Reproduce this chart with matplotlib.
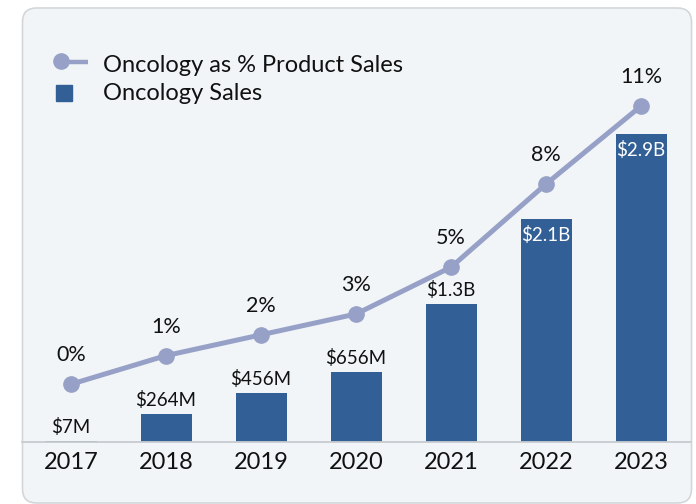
import matplotlib
matplotlib.use("Agg")
import matplotlib.pyplot as plt
from matplotlib.patches import FancyBboxPatch, Rectangle
from matplotlib.lines import Line2D
from matplotlib.transforms import IdentityTransform

plt.rcParams["font.family"] = ["Lato", "DejaVu Sans"]

years = ["2017", "2018", "2019", "2020", "2021", "2022", "2023"]
sales_m = [7, 264, 456, 656, 1300, 2100, 2900]
sales_labels = ["$7M", "$264M", "$456M", "$656M", "$1.3B", "$2.1B", "$2.9B"]
pct = [0.3, 1.4, 2.2, 3.0, 4.8, 8.0, 11.0]
pct_labels = ["0%", "1%", "2%", "3%", "5%", "8%", "11%"]

BAR = "#315f96"
LINE = "#97a1c7"
PANEL = "#f1f5f7"
H = 504


def px(y):
    # top-based pixel row -> display y
    return H - y


fig = plt.figure(figsize=(6.96, 5.04), dpi=100)
fig.patch.set_facecolor("white")

# rounded panel behind the chart (pixel coords)
panel = FancyBboxPatch((22.5, 1), 669, 495, boxstyle="round,pad=0,rounding_size=14",
                       transform=IdentityTransform(), facecolor=PANEL,
                       edgecolor="#d3d7da", linewidth=1.2, zorder=-10)
fig.patches.append(panel)

ax = fig.add_axes([22 / 696, 62 / 504, 669 / 696, 434 / 504])
ax.patch.set_alpha(0)
x = list(range(len(years)))
bars = ax.bar(x, sales_m, width=0.537, color=BAR, zorder=2)
ax.set_xlim(-0.516, 6.526)
ax.set_ylim(0, 4080)
ax.set_yticks([])
ax.set_xticks(x)
ax.set_xticklabels(years, fontsize=17, color="#111111")
ax.tick_params(axis="x", length=0, pad=7)
for s in ["top", "right", "left"]:
    ax.spines[s].set_visible(False)
ax.spines["bottom"].set_color("#c8ccd0")
ax.spines["bottom"].set_linewidth(1.3)

for i, (v, lab) in enumerate(zip(sales_m, sales_labels)):
    if v > 2000:
        ax.annotate(lab, (i, v), xytext=(0, -16), textcoords="offset pixels",
                    ha="center", va="center", fontsize=13.5, color="white", zorder=4)
    else:
        ax.annotate(lab, (i, v), xytext=(0, 14), textcoords="offset pixels",
                    ha="center", va="center", fontsize=13.5, color="#111111", zorder=4)

ax2 = ax.twinx()
ax2.set_ylim(-1.923, 14.77)
ax2.axis("off")
ax2.plot(x, pct, color=LINE, lw=3.6, marker="o", markersize=11, zorder=3)
for i, (v, lab) in enumerate(zip(pct, pct_labels)):
    ax2.annotate(lab, (i, v), xytext=(0, 29), textcoords="offset pixels",
                 ha="center", va="center", fontsize=15.5, color="#111111")

# legend
ident = IdentityTransform()
fig.lines.append(Line2D([60, 88], [px(62), px(62)], color=LINE, lw=3.2,
                        transform=ident, solid_capstyle="butt"))
fig.lines.append(Line2D([60.5], [px(61)], color=LINE, marker="o", markersize=11,
                        transform=ident, lw=0))
fig.patches.append(Rectangle((56, px(101)), 16, 16, color=BAR, transform=ident))
fig.text(103, px(65), "Oncology as % Product Sales", transform=ident,
         fontsize=17, va="center", ha="left", color="#111111")
fig.text(103, px(93), "Oncology Sales", transform=ident,
         fontsize=17, va="center", ha="left", color="#111111")

fig.savefig("out.png", dpi=100)
